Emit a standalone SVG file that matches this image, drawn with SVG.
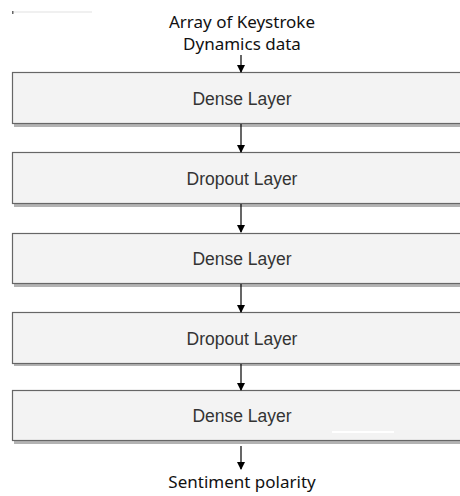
<svg xmlns="http://www.w3.org/2000/svg" width="460" height="496" viewBox="0 0 460 496">
<style>
.box{fill:#f3f3f3;stroke:#666;stroke-width:1.2}
.shadow{fill:#b3b3b3}
.lbl{font-family:"Liberation Sans",Arial,sans-serif;font-size:17.5px;fill:#333;text-anchor:middle}
.io{font-family:"Noto Sans","DejaVu Sans",sans-serif;font-size:17px;fill:#111;text-anchor:middle}
.conn line{stroke:#000;stroke-width:1.2}
</style>
<defs>
<marker id="ah" markerWidth="8" markerHeight="8" refX="7" refY="4" orient="auto" markerUnits="userSpaceOnUse">
<path d="M0,0 L8,4 L0,8 Z" fill="#000"/>
</marker>
</defs>
<rect x="12" y="11" width="80" height="2" fill="#f0f0f0"/>
<rect x="12" y="11" width="1.5" height="3" fill="#666"/>
<g id="input"><text class="io" x="242" y="27.5">Array of Keystroke</text><text class="io" x="242" y="50">Dynamics data</text></g>
<g id="n1"><rect class="shadow" x="14" y="75" width="450" height="52"/><rect class="box" x="12.5" y="72.5" width="450" height="51"/><text class="lbl" x="242" y="105">Dense Layer</text></g>
<g id="n2"><rect class="shadow" x="14" y="155" width="450" height="52"/><rect class="box" x="12.5" y="152.5" width="450" height="51"/><text class="lbl" x="242" y="185">Dropout Layer</text></g>
<g id="n3"><rect class="shadow" x="14" y="235" width="450" height="52"/><rect class="box" x="12.5" y="233.5" width="450" height="50"/><text class="lbl" x="242" y="265">Dense Layer</text></g>
<g id="n4"><rect class="shadow" x="14" y="315" width="450" height="51"/><rect class="box" x="12.5" y="312.5" width="450" height="51"/><text class="lbl" x="242" y="345">Dropout Layer</text></g>
<g id="n5"><rect class="shadow" x="14" y="393" width="450" height="51"/><rect class="box" x="12.5" y="390.5" width="450" height="50"/><text class="lbl" x="242" y="422">Dense Layer</text><rect x="332" y="431" width="62" height="2" fill="#fff"/></g>
<g id="output"><text class="io" x="242" y="488">Sentiment polarity</text></g>
<g class="conn">
<line x1="241" y1="55" x2="241" y2="72" marker-end="url(#ah)"/>
<line x1="241" y1="124" x2="241" y2="152" marker-end="url(#ah)"/>
<line x1="241" y1="204" x2="241" y2="232" marker-end="url(#ah)"/>
<line x1="241" y1="284" x2="241" y2="312" marker-end="url(#ah)"/>
<line x1="241" y1="364" x2="241" y2="390" marker-end="url(#ah)"/>
<line x1="241" y1="446" x2="241" y2="469" marker-end="url(#ah)"/>
</g>
</svg>
